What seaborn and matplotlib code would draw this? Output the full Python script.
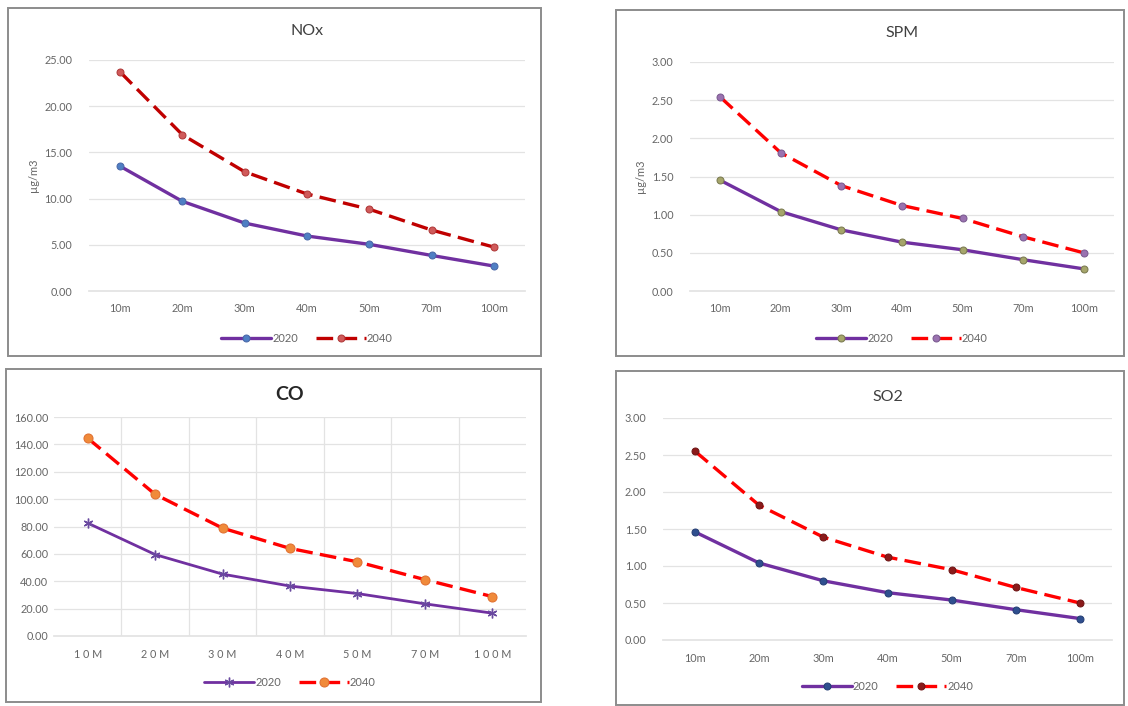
import matplotlib
matplotlib.use("Agg")
import matplotlib.pyplot as plt
import pandas as pd
import seaborn as sns
from matplotlib.patches import Rectangle

sns.set_theme(style="white")
plt.rcParams["font.family"] = ["Lato", "DejaVu Sans"]

# ---- data ----
distances = ["10m", "20m", "30m", "40m", "50m", "70m", "100m"]
distances_co = ["1 0 M", "2 0 M", "3 0 M", "4 0 M", "5 0 M", "7 0 M", "1 0 0 M"]

nox_2020 = [13.5, 9.7, 7.35, 5.95, 5.05, 3.85, 2.7]
nox_2040 = [23.7, 16.9, 12.9, 10.5, 8.85, 6.6, 4.75]

spm_2020 = [1.45, 1.04, 0.80, 0.64, 0.54, 0.41, 0.29]
spm_2040 = [2.54, 1.81, 1.38, 1.12, 0.95, 0.71, 0.50]

co_2020 = [82.5, 59.5, 45.2, 36.5, 31.0, 23.5, 16.7]
co_2040 = [144.5, 103.5, 78.8, 64.0, 54.2, 41.2, 28.8]

so2_2020 = [1.46, 1.04, 0.80, 0.64, 0.54, 0.41, 0.29]
so2_2040 = [2.55, 1.82, 1.39, 1.12, 0.95, 0.71, 0.50]

W, H = 1128, 706
fig = plt.figure(figsize=(W / 100, H / 100), dpi=100)
fig.patch.set_facecolor("white")


def px_axes(l, t, r, b):
    return fig.add_axes([l / W, 1 - b / H, (r - l) / W, (b - t) / H])


def box(l, t, r, b):
    fig.patches.append(Rectangle((l / W, 1 - b / H), (r - l) / W, (b - t) / H,
                                 transform=fig.transFigure, fill=False,
                                 edgecolor="#8c8c8c", linewidth=1.4))


def panel(ax, cats, v20, v40, ymax, step, title, s20, s40, ylabel=None,
          title_kw=None, vgrid=False):
    df = pd.DataFrame({"dist": cats, "y2020": v20, "y2040": v40})
    sns.lineplot(data=df, x="dist", y="y2020", ax=ax, sort=False,
                 label="2020", **s20)
    sns.lineplot(data=df, x="dist", y="y2040", ax=ax, sort=False,
                 label="2040", **s40)
    ax.set_xlim(-0.5, len(cats) - 0.5)
    ax.set_ylim(0, ymax)
    ticks = [i * step for i in range(int(round(ymax / step)) + 1)]
    ax.set_yticks(ticks)
    ax.set_yticklabels([f"{t:.2f}" for t in ticks])
    ax.grid(axis="y", color="#e3e3e3", linewidth=0.9)
    if vgrid:
        ax.set_xticks([i + 0.5 for i in range(len(cats) - 1)], minor=True)
        ax.grid(axis="x", which="minor", color="#e3e3e3", linewidth=0.9)
    for s in ["top", "right", "left"]:
        ax.spines[s].set_visible(False)
    ax.spines["bottom"].set_color("#e3e3e3")
    ax.tick_params(axis="both", labelsize=7.8, colors="#666666", length=0, pad=9)
    ax.tick_params(axis="y", pad=12)
    ax.set_xlabel("")
    ax.set_ylabel(ylabel or "", fontsize=8, color="#666666", labelpad=4)
    tk = dict(fontsize=11.5, color="#404040", pad=18)
    if title_kw:
        tk.update(title_kw)
    ax.set_title(title, **tk)
    ax.legend(loc="upper center", bbox_to_anchor=(0.5, -0.14), ncol=2,
              frameon=False, fontsize=8, labelcolor="#666666",
              handlelength=4.5, columnspacing=1.6, handletextpad=0.1)


dash = (0, (5, 2.2))

# NOx
box(8, 8, 541, 356)
ax = px_axes(89, 60, 525, 291)
panel(ax, distances, nox_2020, nox_2040, 25, 5, "NOx",
      dict(color="#7030a0", linewidth=2.4, marker="o", markersize=5,
           markerfacecolor="#4f7fc4", markeredgecolor="#4a68a8"),
      dict(color="#c00000", linewidth=2.4, linestyle=dash, marker="o",
           markersize=5, markerfacecolor="#d05a5a", markeredgecolor="#b03a3a"),
      ylabel="µg/m3")

# SPM
box(616, 10, 1124, 356)
ax = px_axes(690, 62, 1114, 291)
panel(ax, distances, spm_2020, spm_2040, 3, 0.5, "SPM",
      dict(color="#7030a0", linewidth=2.4, marker="o", markersize=5,
           markerfacecolor="#a5a56a", markeredgecolor="#7a7a50"),
      dict(color="#ff0000", linewidth=2.4, linestyle=dash, marker="o",
           markersize=5, markerfacecolor="#9a72b0", markeredgecolor="#7a5a90"),
      ylabel="µg/m3")

# CO
box(6, 369, 541, 702)
ax = px_axes(54, 417, 526, 636)
panel(ax, distances_co, co_2020, co_2040, 160, 20, "CO",
      dict(color="#7030a0", linewidth=2.0, marker=(6, 2, 0), markersize=7,
           markeredgecolor="#6a4aa0", markeredgewidth=1.0),
      dict(color="#ff0000", linewidth=2.4, linestyle=dash, marker="o",
           markersize=6.5, markerfacecolor="#f08a3a", markeredgecolor="#e07030"),
      title_kw=dict(fontsize=14, fontweight="bold", color="#262626", pad=12),
      vgrid=True)
ax.tick_params(axis="y", pad=4)

# SO2
box(616, 371, 1124, 705)
ax = px_axes(663, 418, 1112, 640)
panel(ax, distances, so2_2020, so2_2040, 3, 0.5, "SO2",
      dict(color="#7030a0", linewidth=2.4, marker="o", markersize=5,
           markerfacecolor="#2f4f8f", markeredgecolor="#253f75"),
      dict(color="#ff0000", linewidth=2.4, linestyle=dash, marker="o",
           markersize=5, markerfacecolor="#8b1a1a", markeredgecolor="#6e1515"),
      title_kw=dict(pad=12))

fig.savefig("out.png", dpi=100, facecolor="white")
